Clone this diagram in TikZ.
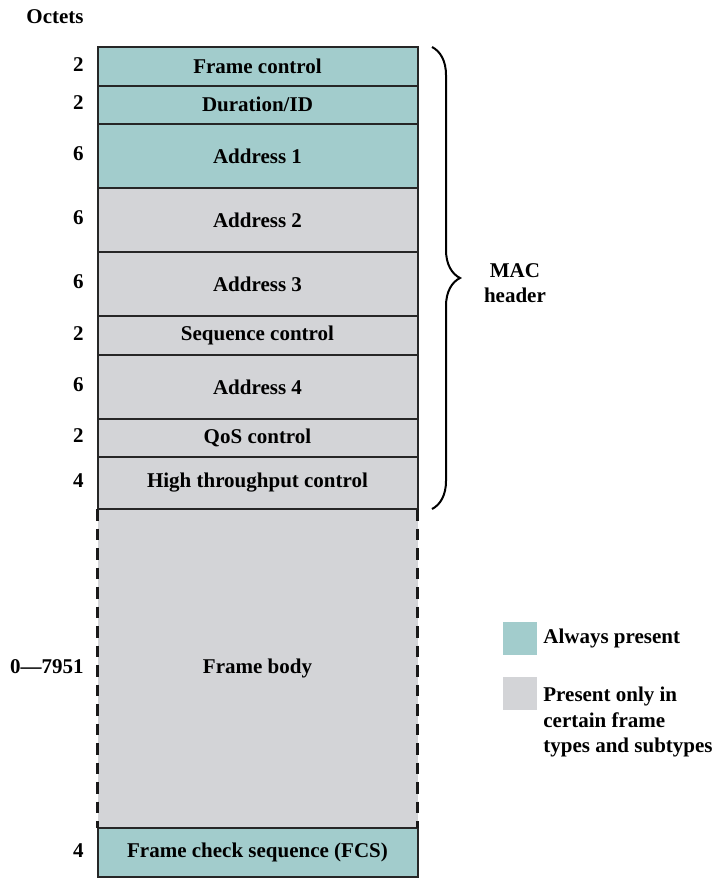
\documentclass[tikz,border=0pt]{standalone}
\usepackage{fontspec}
\setmainfont{Liberation Serif}
\usepackage{xcolor}
\usetikzlibrary{positioning,decorations.pathreplacing}
\definecolor{alwaysteal}{HTML}{A2CCCC}
\definecolor{optgray}{HTML}{D3D4D7}

\begin{document}
\begin{tikzpicture}[
  field/.style={draw=black!85, line width=1pt, outer sep=0pt, inner sep=0pt,
               minimum width=160pt, font=\fontsize{10.5pt}{12.75pt}\selectfont\bfseries, align=center},
  always/.style={field, fill=alwaysteal},
  optional/.style={field, fill=optgray},
  octet/.style={anchor=east, inner sep=0pt, font=\fontsize{10.5pt}{12.75pt}\selectfont\bfseries},
  legbox/.style={minimum width=17pt, minimum height=16.5pt, inner sep=0pt, outer sep=0pt},
  legtext/.style={inner sep=0pt, align=left, font=\fontsize{10.5pt}{12.75pt}\selectfont\bfseries},
  dashside/.style={black!90, line width=1.1pt, dash pattern=on 5.75pt off 4pt},
  node distance=0pt]
\useasboundingbox (0,0) rectangle (358.5pt,-439.5pt);
\node[octet] (octets) at (42pt,-8.35pt) {Octets};
\node[always, anchor=north west, minimum height=19.25pt] (fc) at (48.75pt,-23.5pt) {Frame control};
\node[always, below=of fc, minimum height=19.25pt] (dur) {Duration/ID};
\node[always, below=of dur, minimum height=32pt] (a1) {Address 1};
\node[optional, below=of a1, minimum height=32pt] (a2) {Address 2};
\node[optional, below=of a2, minimum height=32pt] (a3) {Address 3};
\node[optional, below=of a3, minimum height=19.5pt] (seq) {Sequence control};
\node[optional, below=of seq, minimum height=32pt] (a4) {Address 4};
\node[optional, below=of a4, minimum height=19pt] (qos) {QoS control};
\node[optional, below=of qos, minimum height=26pt] (ht) {High throughput control};
\node[optional, draw=none, below=of ht, minimum height=159.5pt] (body) {Frame body};
\node[always, below=of body, minimum height=24.5pt] (fcs) {Frame check sequence (FCS)};
% dashed sides of the frame body
\draw[dashside] (body.north west) -- (body.south west);
\draw[dashside] (body.north east) -- (body.south east);
\draw[black!85, line width=1pt] (ht.south west) -- (ht.south east);
\foreach \r/\n in {fc/2,dur/2,a1/6,a2/6,a3/6,seq/2,a4/6,qos/2,ht/4,body/0---7951,fcs/4}
  \node[octet] (n-\r) at ([xshift=-6.75pt,yshift=1pt]\r.west) {\n};
% MAC header brace
\draw[line width=1pt, decorate, decoration={brace, amplitude=14pt}]
  ([xshift=7.25pt]fc.north east) -- ([xshift=7.25pt]ht.south east)
  node[midway, legtext, align=center, anchor=west, xshift=25.5pt, yshift=-2.5pt] (mac) {MAC\\header};
% legend
\node[legbox, fill=alwaysteal, anchor=north west] (keyteal) at (251.5pt,-311pt) {};
\node[legbox, fill=optgray, below=11pt of keyteal] (keygray) {};
\node[legtext, anchor=west, right=3pt of keyteal] (keytealtxt) {Always present};
\node[legtext, anchor=north west] (keygraytxt) at ([xshift=3pt,yshift=-5pt]keygray.north east)
  {Present only in\\certain frame\\types and subtypes};
\end{tikzpicture}
\end{document}
